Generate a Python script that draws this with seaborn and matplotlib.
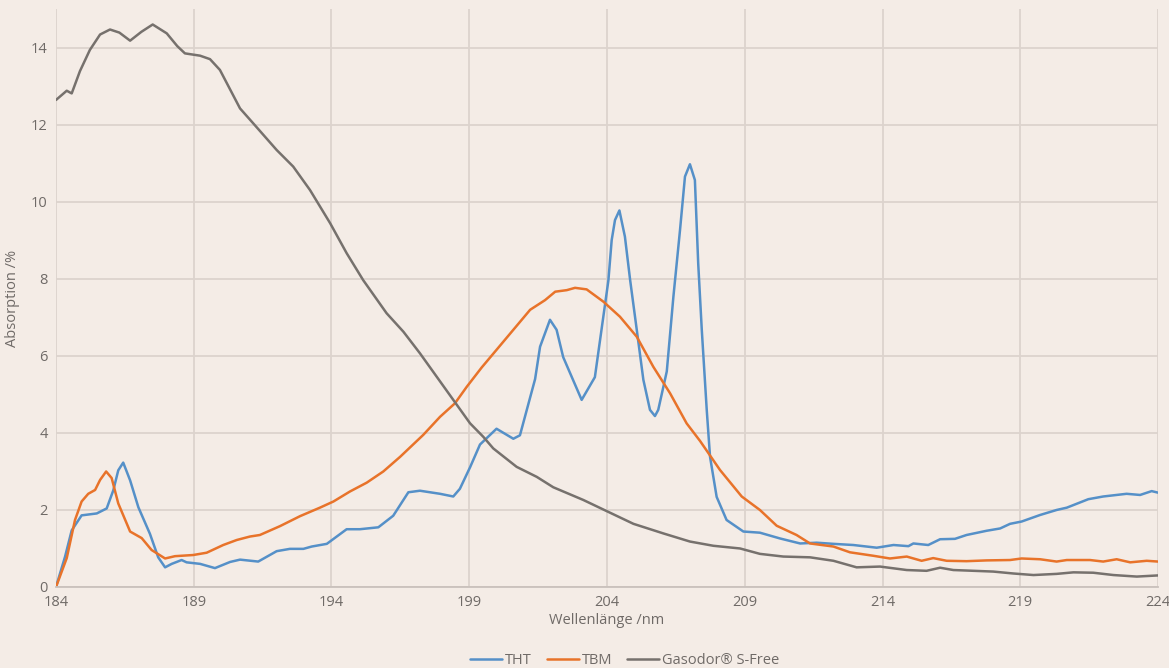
import pandas as pd
import seaborn as sns
import matplotlib.pyplot as plt

# wavelength / absorption values
tht_x = [184.0, 184.33, 184.57, 184.93, 185.48, 185.84, 186.08, 186.26, 186.44, 186.69,
         186.99, 187.41, 187.71, 187.96, 188.2, 188.56, 188.74, 189.23, 189.77, 190.32,
         190.68, 191.34, 192.01, 192.49, 192.98, 193.28, 193.83, 194.55, 195.03, 195.7,
         196.24, 196.79, 197.21, 197.94, 198.42, 198.66, 199.03, 199.39, 199.99, 200.6,
         200.84, 201.39, 201.57, 201.93, 202.17, 202.41, 203.08, 203.56, 204.05, 204.17,
         204.29, 204.45, 204.65, 204.84, 205.08, 205.32, 205.56, 205.74, 205.86, 206.17,
         206.41, 206.65, 206.83, 207.01, 207.19, 207.31, 207.44, 207.62, 207.74, 207.98,
         208.34, 208.95, 209.55, 210.28, 211.01, 211.61, 212.22, 212.94, 213.79, 214.4,
         214.94, 215.12, 215.66, 216.09, 216.63, 217.05, 217.78, 218.27, 218.63, 219.05,
         219.72, 220.32, 220.69, 221.47, 222.01, 222.86, 223.35, 223.77, 224.0]
tht_y = [0.0, 0.79, 1.47, 1.86, 1.91, 2.04, 2.51, 3.03, 3.23, 2.77,
         2.07, 1.38, 0.77, 0.51, 0.6, 0.7, 0.64, 0.6, 0.49, 0.65,
         0.71, 0.66, 0.93, 0.99, 0.99, 1.05, 1.12, 1.5, 1.5, 1.55,
         1.85, 2.46, 2.5, 2.42, 2.35, 2.55, 3.11, 3.7, 4.11, 3.85,
         3.94, 5.4, 6.24, 6.94, 6.68, 5.97, 4.86, 5.45, 7.96, 9.01,
         9.53, 9.78, 9.1, 7.97, 6.68, 5.38, 4.6, 4.44, 4.6, 5.6,
         7.54, 9.27, 10.66, 10.98, 10.57, 8.41, 6.68, 4.6, 3.38, 2.34,
         1.74, 1.44, 1.41, 1.26, 1.13, 1.15, 1.12, 1.09, 1.02, 1.09,
         1.06, 1.13, 1.09, 1.24, 1.25, 1.35, 1.46, 1.52, 1.64, 1.7,
         1.87, 2.0, 2.06, 2.28, 2.35, 2.42, 2.39, 2.49, 2.45]

tbm_x = [184.0, 184.39, 184.69, 184.93, 185.17, 185.42, 185.6, 185.82, 186.02, 186.26,
         186.69, 187.11, 187.47, 187.96, 188.32, 188.98, 189.47, 190.07, 190.56, 191.04,
         191.4, 192.13, 192.86, 193.58, 194.07, 194.67, 195.28, 195.88, 196.49, 197.33,
         197.94, 198.48, 198.91, 199.45, 199.99, 200.6, 201.21, 201.75, 202.12, 202.54,
         202.84, 203.26, 203.87, 204.47, 205.08, 205.68, 206.29, 206.89, 207.38, 208.1,
         208.89, 209.55, 210.16, 210.88, 211.37, 212.22, 212.82, 213.67, 214.27, 214.88,
         215.42, 215.84, 216.33, 217.05, 217.78, 218.63, 219.05, 219.72, 220.32, 220.69,
         221.53, 222.01, 222.5, 222.99, 223.59, 224.0]
tbm_y = [0.0, 0.75, 1.74, 2.22, 2.42, 2.52, 2.78, 3.0, 2.83, 2.17,
         1.44, 1.27, 0.96, 0.74, 0.8, 0.83, 0.89, 1.09, 1.22, 1.31,
         1.35, 1.58, 1.84, 2.06, 2.22, 2.48, 2.71, 3.0, 3.38, 3.95,
         4.42, 4.77, 5.2, 5.7, 6.16, 6.68, 7.2, 7.45, 7.67, 7.71,
         7.77, 7.73, 7.41, 7.02, 6.5, 5.72, 5.03, 4.25, 3.79, 3.04,
         2.35, 2.0, 1.59, 1.35, 1.13, 1.05, 0.9, 0.81, 0.74, 0.79,
         0.68, 0.75, 0.68, 0.67, 0.69, 0.7, 0.74, 0.72, 0.66, 0.7,
         0.7, 0.66, 0.72, 0.64, 0.68, 0.66]

gas_x = [184.0, 184.39, 184.57, 184.87, 185.23, 185.6, 185.96, 186.3, 186.69, 187.1,
         187.51, 188.02, 188.4, 188.68, 189.23, 189.59, 189.95, 190.68, 191.15, 192.01,
         192.61, 193.22, 193.95, 194.55, 195.15, 196.0, 196.61, 197.21, 197.82, 198.42,
         199.03, 199.51, 199.87, 200.72, 201.45, 202.05, 203.14, 203.99, 204.96, 206.05,
         207.01, 207.86, 208.83, 209.55, 210.4, 211.37, 212.22, 213.06, 213.91, 214.88,
         215.6, 216.09, 216.57, 217.3, 218.02, 218.75, 219.48, 220.32, 220.93, 221.65,
         222.38, 223.23, 224.0]
gas_y = [12.65, 12.89, 12.82, 13.4, 13.95, 14.35, 14.48, 14.4, 14.19, 14.42,
         14.61, 14.38, 14.05, 13.86, 13.8, 13.71, 13.43, 12.43, 12.05, 11.35,
         10.92, 10.31, 9.45, 8.67, 7.97, 7.11, 6.63, 6.07, 5.46, 4.86,
         4.25, 3.9, 3.6, 3.12, 2.86, 2.59, 2.26, 1.97, 1.64, 1.39,
         1.18, 1.07, 1.0, 0.86, 0.79, 0.77, 0.68, 0.51, 0.53, 0.44,
         0.42, 0.5, 0.44, 0.42, 0.4, 0.35, 0.31, 0.34, 0.38, 0.37,
         0.31, 0.27, 0.3]

series_names = ["THT", "TBM", "Gasodor\u00ae S-Free"]
x_ticks = [184, 189, 194, 199, 204, 209, 214, 219, 224]
y_ticks = [0, 2, 4, 6, 8, 10, 12, 14]

df = pd.concat([
    pd.DataFrame({"nm": tht_x, "abs": tht_y, "Stoff": series_names[0]}),
    pd.DataFrame({"nm": tbm_x, "abs": tbm_y, "Stoff": series_names[1]}),
    pd.DataFrame({"nm": gas_x, "abs": gas_y, "Stoff": series_names[2]}),
])

bg = "#F4ECE6"
grid = "#DCD3CD"
txt = "#6F6A67"
palette = dict(zip(series_names, ["#5590C8", "#E8732A", "#76716D"]))

sns.set_theme(style="whitegrid")
plt.rcParams["font.family"] = ["Open Sans", "DejaVu Sans"]

fig = plt.figure(figsize=(11.69, 6.68), dpi=100, facecolor=bg)
ax = fig.add_axes([0.0479, 0.1213, 0.9427, 0.8645])
ax.set_facecolor(bg)

sns.lineplot(data=df, x="nm", y="abs", hue="Stoff", hue_order=series_names,
             palette=palette, estimator=None, sort=True, linewidth=1.8, ax=ax)

ax.set_xlim(184, 224)
ax.set_ylim(0, 15)
ax.set_xticks(x_ticks)
ax.set_yticks(y_ticks)
ax.grid(True, color=grid, linewidth=1.3)
for s in ["top", "right", "left"]:
    ax.spines[s].set_visible(False)
ax.spines["bottom"].set_color("#C9C1BC")
ax.spines["bottom"].set_linewidth(1.3)
ax.tick_params(axis="both", length=0, labelsize=10.5, labelcolor=txt, pad=6)

ax.set_xlabel("Wellenlänge /nm", fontsize=10.5, color=txt, labelpad=2)
ax.set_ylabel("Absorption /%", fontsize=10.5, color=txt, labelpad=8)

sns.move_legend(ax, "center", bbox_to_anchor=(0.516, -0.127), ncol=3,
                frameon=False, title=None, fontsize=10.5, handlelength=2.2,
                columnspacing=1.0, handletextpad=0.2, labelcolor=txt)

fig.savefig("out.png", dpi=100, facecolor=bg)
